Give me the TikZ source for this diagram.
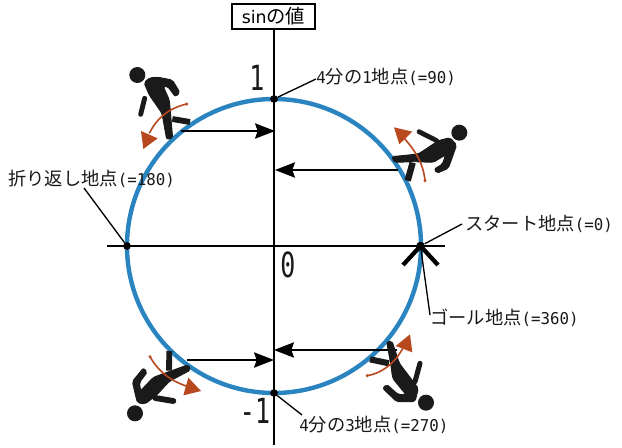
\documentclass[tikz,border=0pt]{standalone}
\usepackage{fontspec}
\setmainfont{DejaVu Sans}
\newfontfamily\monof[FakeStretch=0.97]{DejaVu Sans Mono}
\newfontfamily\bigf[FakeStretch=0.72]{DejaVu Sans Mono}
\newfontfamily\cjkf{Noto Sans CJK JP}
\usetikzlibrary{arrows.meta}
\definecolor{ringblue}{HTML}{2A84C0}
\definecolor{rust}{HTML}{B8481E}
\definecolor{fig}{HTML}{1A1A1A}
\newcommand{\jp}[1]{{\cjkf\fontsize{13.7pt}{15pt}\selectfont #1}}
\tikzset{
  x=0.75pt,y=-0.75pt,
  axisline/.style={line width=1.1pt,black},
  ring/.style={line width=3.3pt,ringblue},
  leader/.style={line width=1pt,black},
  proj/.style={line width=1.1pt,black,-{Stealth[length=15pt,width=11.5pt,inset=2pt]}},
  marker/.style={circle,fill=black,inner sep=0pt,minimum size=5.8pt},
  lab/.style={font=\monof\fontsize{12.2pt}{14pt}\selectfont,anchor=west,inner sep=0pt,text=black!90},
  big/.style={font=\bigf\fontsize{26pt}{29pt}\selectfont,inner sep=0pt,text=black!90},
  limb/.style={fig,line cap=round,line join=round},
  turn/.style={rust,line width=1.2pt},
  body/.style={fill=fig,draw=fig,line width=0.7pt,line join=round,rounded corners=1.5pt},
}
\begin{document}
\begin{tikzpicture}
\useasboundingbox (0,0) rectangle (622,447);
\fill[white] (0,0) rectangle (622,447);
% axes
\node[draw=black,line width=1.3pt,minimum width=62pt,minimum height=18.5pt,inner sep=0pt,font=\fontsize{13pt}{15pt}\selectfont] (title) at (273.5,16.5) {sin{\cjkf\fontsize{14.5pt}{15pt}\selectfont の値}};
\coordinate (axb) at (274,445);
\coordinate (axl) at (107,246);
\coordinate (axr) at (445,246);
\draw[axisline] (title.south -| axb) -- (axb);
\draw[axisline] (axl) -- (axr);
\draw[ring] (274,246) circle[radius=147];
% marks
\node[marker] (top) at (274,99) {};
\node[marker] (bot) at (274,393) {};
\node[marker] (lft) at (127,246) {};
\node[marker,minimum size=6.5pt] (rgt) at (420.5,246) {};
% goal mark
\coordinate (gl) at (403,265);
\coordinate (gr) at (438,265);
\draw[line width=3.2pt,black] (gl) -- (rgt.center) -- (gr);
% labels
\node[lab] (l1) at (316,77) {4\jp{分の}1\jp{地点}(=90)};
\node[lab] (l2) at (465,224) {\jp{スタート地点}(=0)};
\node[lab] (l3) at (430,318) {\jp{ゴール地点}(=360)};
\node[lab] (l4) at (299,425) {4\jp{分の}3\jp{地点}(=270)};
\node[lab] (l5) at (8,179) {\jp{折り返し地点}(=180)};
\node[big] (n1) at (257,77.5) {1};
\node[big] (n0) at (288,265) {0};
\node[big] (nm) at (255,411) {-1};
% leaders
\coordinate (a1) at (316,79);
\coordinate (a2) at (462,224);
\coordinate (a3) at (430,315);
\coordinate (a4) at (302,415);
\coordinate (a5) at (84,188);
\draw[leader] (top) -- (a1);
\draw[leader] (rgt) -- (a2);
\draw[leader] (rgt) -- (a3);
\draw[leader] (bot) -- (a4);
\draw[leader] (lft) -- (a5);
% projections
\coordinate (p1s) at (181,131); \coordinate (p1e) at (275,131);
\coordinate (p2s) at (398,170); \coordinate (p2e) at (275,170);
\coordinate (p3s) at (187,360); \coordinate (p3e) at (274,360);
\coordinate (p4s) at (397,350); \coordinate (p4e) at (274,350);
\draw[proj] (p1s) -- (p1e);
\draw[proj] (p2s) -- (p2e);
\draw[proj] (p3s) -- (p3e);
\draw[proj] (p4s) -- (p4e);
% runner top-left
\begin{scope}[shift={(100,50)},x=0.25pt,y=-0.25pt]
 \fill[fig] (112,75) circle[radius=24];
 \path[body] (132,98) -- (150,83) -- (175,82) -- (217,90) -- (240,128) -- (226,140) -- (202,108) -- (190,110) -- (208,150) -- (218,265) -- (200,268) -- (186,190) -- (148,135) -- cycle;
 \draw[limb,line width=3.7pt] (134,145) -- (122,193);
 \draw[line width=4.4pt,fig] (217,207) -- (270,216);
 \draw[turn] (260,162) .. controls (205,175) and (170,205) .. (148,250);
 \fill[rust] (260,162) circle[radius=5];
 \fill[rust] (123,243) -- (173,265) -- (130,297) -- cycle;
\end{scope}
% runner top-right
\begin{scope}[shift={(370,100)},x=0.25pt,y=-0.25pt]
 \fill[fig] (268,98) circle[radius=24];
 \path[body] (66,170) -- (145,162) -- (205,122) -- (240,113) -- (260,135) -- (235,205) -- (200,220) -- (193,207) -- (218,192) -- (226,165) -- (190,187) -- (135,185) -- (72,187) -- cycle;
 \draw[limb,line width=3.6pt] (147,95) -- (200,122);
 \draw[line width=4.8pt,fig] (128,188) -- (113,242);
 \draw[turn] (165,242) .. controls (160,190) and (135,150) .. (100,112);
 \fill[rust] (165,242) circle[radius=5];
 \fill[rust] (72,82) -- (127,95) -- (88,133) -- cycle;
\end{scope}
% runner bottom-left
\begin{scope}[shift={(110,340)},x=0.25pt,y=-0.25pt]
 \fill[fig] (75,220) circle[radius=24];
 \path[body] (235,74) -- (242,90) -- (178,124) -- (140,165) -- (105,192) -- (82,188) -- (67,125) -- (100,84) -- (112,96) -- (88,128) -- (92,152) -- (130,112) -- cycle;
 \draw[line width=4.4pt,fig] (178,33) -- (177,92);
 \draw[limb,line width=4.4pt] (136,174) -- (190,183);
 \draw[turn] (120,50) .. controls (145,95) and (185,125) .. (235,140);
 \fill[rust] (120,50) circle[radius=5];
 \fill[rust] (235,113) -- (273,153) -- (220,166) -- cycle;
\end{scope}
% runner bottom-right
\begin{scope}[shift={(350,320)},x=0.25pt,y=-0.25pt]
 \fill[fig] (228,248) circle[radius=24];
 \path[body] (110,66) -- (126,63) -- (148,130) -- (205,205) -- (195,245) -- (140,245) -- (98,205) -- (110,193) -- (145,224) -- (168,224) -- (128,175) -- (122,130) -- cycle;
 \draw[limb,line width=3.8pt] (210,130) -- (195,185);
 \draw[line width=4.6pt,fig] (60,118) -- (117,130);
 \draw[turn] (52,167) .. controls (95,160) and (135,130) .. (160,82);
 \fill[rust] (52,167) circle[radius=5];
 \fill[rust] (137,78) -- (180,43) -- (187,97) -- cycle;
\end{scope}
\end{tikzpicture}
\end{document}
